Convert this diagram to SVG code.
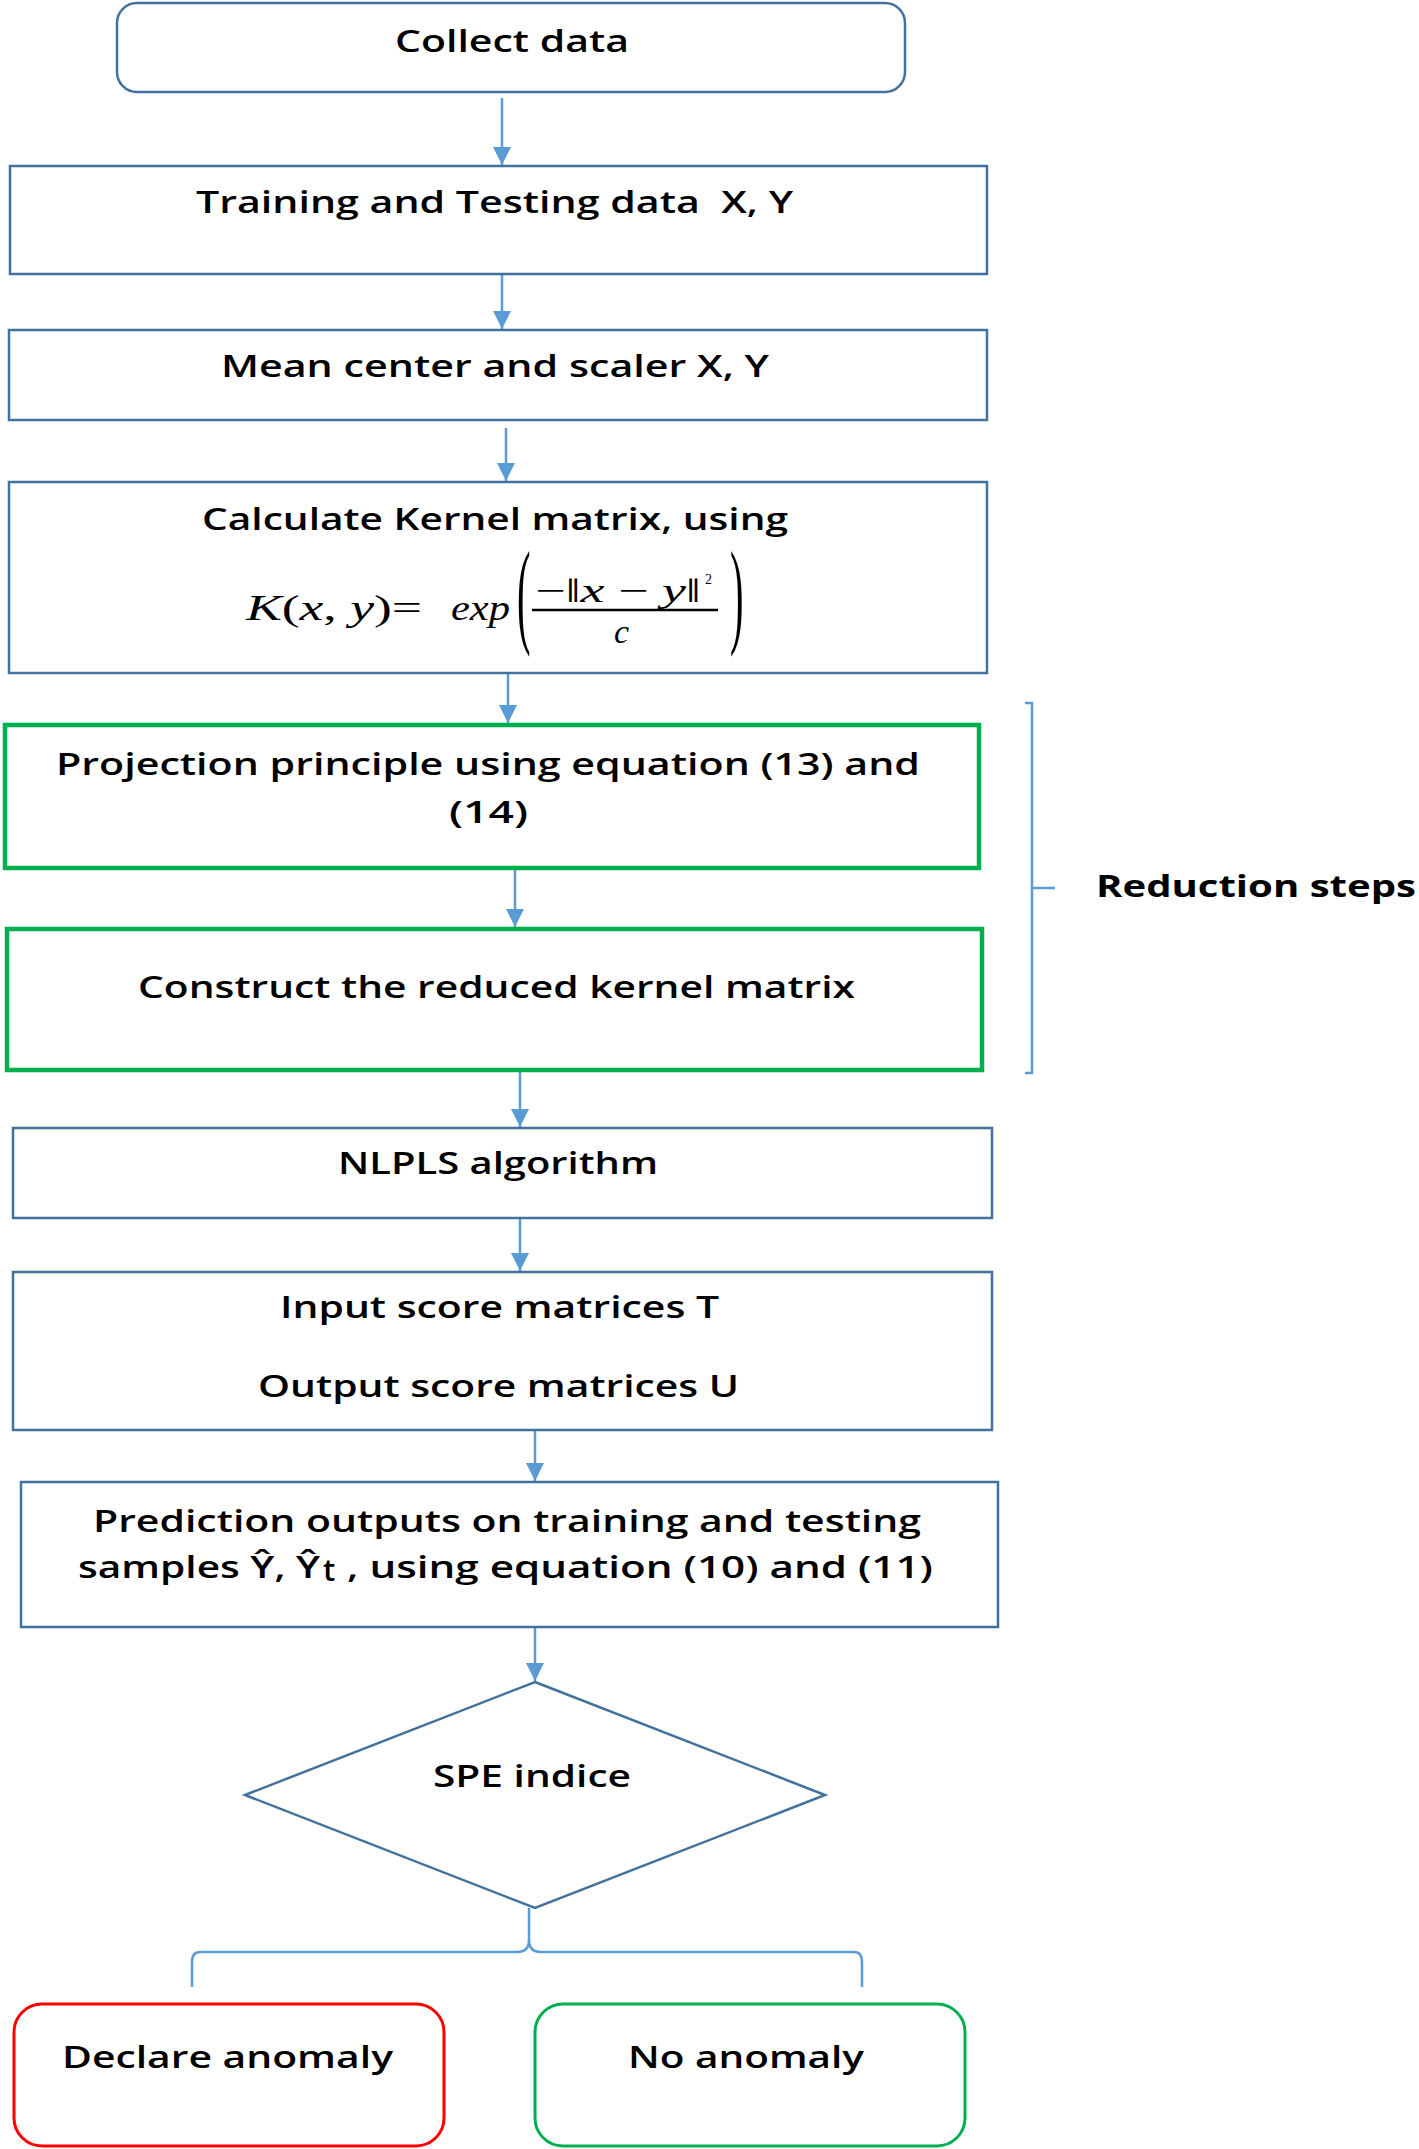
<svg xmlns="http://www.w3.org/2000/svg" width="1419" height="2149" viewBox="0 0 1419 2149">
<defs>
<style>
.box{fill:#fff;stroke:#41719C;stroke-width:2.5}
.gbox{fill:#fff;stroke:#00B050;stroke-width:4.5}
.t{font-family:"Open Sans","Liberation Sans",sans-serif;font-size:31px;font-weight:600;fill:#000}
.b{font-weight:bold}
.m{font-family:"Liberation Serif","Times New Roman",serif;fill:#000}
.it{font-style:italic}
.conn{fill:none;stroke:#5B9BD5;stroke-width:2.5}
</style>
<marker id="ah" markerUnits="userSpaceOnUse" markerWidth="18" markerHeight="22" refX="18" refY="9" orient="auto">
<path d="M0,0 L18,9 L0,18 Z" fill="#5B9BD5"/>
</marker>
</defs>
<rect width="1419" height="2149" fill="#fff"/>

<g id="connectors">
<line class="conn" x1="502" y1="98" x2="502" y2="165" marker-end="url(#ah)"/>
<line class="conn" x1="502" y1="275" x2="502" y2="329" marker-end="url(#ah)"/>
<line class="conn" x1="506" y1="428" x2="506" y2="481" marker-end="url(#ah)"/>
<line class="conn" x1="508" y1="673" x2="508" y2="723" marker-end="url(#ah)"/>
<line class="conn" x1="515" y1="869" x2="515" y2="927" marker-end="url(#ah)"/>
<line class="conn" x1="520" y1="1071" x2="520" y2="1127" marker-end="url(#ah)"/>
<line class="conn" x1="520" y1="1218" x2="520" y2="1271" marker-end="url(#ah)"/>
<line class="conn" x1="535" y1="1430" x2="535" y2="1481" marker-end="url(#ah)"/>
<line class="conn" x1="535" y1="1627" x2="535" y2="1681" marker-end="url(#ah)"/>
<path class="conn" d="M529,1908 L529,1940 Q529,1952 517,1952 L200,1952 Q192,1952 192,1962 L192,1987"/>
<path class="conn" d="M529,1940 Q529,1952 541,1952 L854,1952 Q862,1952 862,1962 L862,1987"/>
</g>

<g id="reduction-bracket">
<path class="conn" d="M1025,703 L1032,703 L1032,1073 L1025,1073"/>
<path class="conn" d="M1032,888 L1055,888"/>
<text class="t b" x="1096" y="897" textLength="320" lengthAdjust="spacingAndGlyphs">Reduction steps</text>
</g>

<g id="collect">
<rect class="box" x="117" y="3" width="788" height="89" rx="20"/>
<text class="t" x="395" y="52" textLength="234" lengthAdjust="spacingAndGlyphs">Collect data</text>
</g>

<g id="training">
<rect class="box" x="10" y="166" width="977" height="108"/>
<text class="t" x="196" y="213" textLength="597" lengthAdjust="spacingAndGlyphs" xml:space="preserve">Training and Testing data  X, Y</text>
</g>

<g id="mean">
<rect class="box" x="9" y="330" width="978" height="90"/>
<text class="t" x="221" y="377" textLength="548" lengthAdjust="spacingAndGlyphs">Mean center and scaler X, Y</text>
</g>

<g id="kernel">
<rect class="box" x="9" y="482" width="978" height="191"/>
<text class="t" x="202" y="530" textLength="586" lengthAdjust="spacingAndGlyphs">Calculate Kernel matrix, using</text>
<text class="m" x="246" y="620" font-size="35" textLength="176" lengthAdjust="spacingAndGlyphs"><tspan class="it">K</tspan>(<tspan class="it">x</tspan>, <tspan class="it">y</tspan>)=</text>
<text class="m it" x="451" y="620" font-size="35" textLength="59" lengthAdjust="spacingAndGlyphs">exp</text>
<text class="m" font-size="116" transform="translate(517,632) scale(0.35,1)">(</text>
<text class="m" font-size="116" transform="translate(730,632) scale(0.35,1)">)</text>
<text class="m" x="535" y="602" font-size="34" textLength="166" lengthAdjust="spacingAndGlyphs">−‖<tspan class="it">x</tspan> − <tspan class="it">y</tspan>‖</text>
<text class="m" x="705" y="584" font-size="14">2</text>
<line x1="532" y1="610" x2="718" y2="610" stroke="#000" stroke-width="2.5"/>
<text class="m it" x="614" y="643" font-size="34">c</text>
</g>

<g id="projection">
<rect class="gbox" x="5" y="725" width="974" height="143"/>
<text class="t" x="56" y="775" textLength="864" lengthAdjust="spacingAndGlyphs">Projection principle using equation (13) and</text>
<text class="t" x="449" y="823" textLength="79" lengthAdjust="spacingAndGlyphs">(14)</text>
</g>

<g id="construct">
<rect class="gbox" x="7" y="929" width="975" height="141"/>
<text class="t" x="138" y="998" textLength="717" lengthAdjust="spacingAndGlyphs">Construct the reduced kernel matrix</text>
</g>

<g id="nlpls">
<rect class="box" x="13" y="1128" width="979" height="90"/>
<text class="t" x="338" y="1174" textLength="320" lengthAdjust="spacingAndGlyphs">NLPLS algorithm</text>
</g>

<g id="scores">
<rect class="box" x="13" y="1272" width="979" height="158"/>
<text class="t" x="280" y="1318" textLength="439" lengthAdjust="spacingAndGlyphs">Input score matrices T</text>
<text class="t" x="258" y="1397" textLength="481" lengthAdjust="spacingAndGlyphs">Output score matrices U</text>
</g>

<g id="prediction">
<rect class="box" x="21" y="1482" width="977" height="145"/>
<text class="t" x="93" y="1532" textLength="828" lengthAdjust="spacingAndGlyphs">Prediction outputs on training and testing</text>
<text class="t" x="78" y="1578" textLength="242" lengthAdjust="spacingAndGlyphs">samples Ŷ, Ŷ</text>
<text class="t" x="323" y="1581" font-size="17">t</text>
<text class="t" x="347" y="1578" textLength="586" lengthAdjust="spacingAndGlyphs">, using equation (10) and (11)</text>
</g>

<g id="spe">
<polygon points="535,1682 825,1795 535,1908 245,1795" fill="#fff" stroke="#41719C" stroke-width="2.5"/>
<text class="t" x="433" y="1787" textLength="198" lengthAdjust="spacingAndGlyphs">SPE indice</text>
</g>

<g id="declare">
<rect x="14" y="2004" width="430" height="142" rx="28" fill="#fff" stroke="#FF0000" stroke-width="3"/>
<text class="t" x="62" y="2068" textLength="331" lengthAdjust="spacingAndGlyphs">Declare anomaly</text>
</g>

<g id="noanomaly">
<rect x="535" y="2004" width="430" height="142" rx="28" fill="#fff" stroke="#00B050" stroke-width="3"/>
<text class="t" x="628" y="2068" textLength="236" lengthAdjust="spacingAndGlyphs">No anomaly</text>
</g>
</svg>
